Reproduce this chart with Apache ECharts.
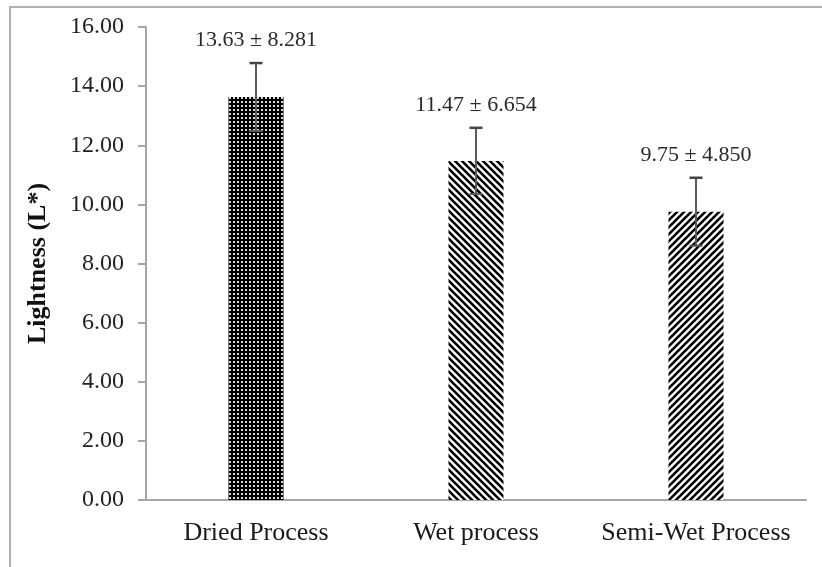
<!DOCTYPE html>
<html>
<head>
<meta charset="utf-8">
<script src="https://cdn.jsdelivr.net/npm/echarts@6/dist/echarts.min.js"></script>
<style>
html,body{margin:0;padding:0;background:#fff;}
#chart{width:822px;height:567px;}
</style>
</head>
<body>
<div id="chart"></div>
<script>
// ---- data ----
const categories = ['Dried Process', 'Wet process', 'Semi-Wet Process'];
const means = [13.63, 11.47, 9.75];
const sds = [8.281, 6.654, 4.850];
const errorBars = [1.15, 1.12, 1.15]; // drawn error-bar half length
const yTicks = { min: 0, max: 16, interval: 2 };

const FONT = "'Liberation Serif', 'Times New Roman', serif";

function makeDots() {
  const c = document.createElement('canvas');
  c.width = 4; c.height = 4;
  const g = c.getContext('2d');
  g.fillStyle = '#000'; g.fillRect(0, 0, 4, 4);
  g.fillStyle = '#d8d8d8'; g.fillRect(1, 1, 2, 2);
  return c;
}
function makeHatch(dir) {
  const s = 7;
  const c = document.createElement('canvas');
  c.width = s; c.height = s;
  const g = c.getContext('2d');
  g.fillStyle = '#fff'; g.fillRect(0, 0, s, s);
  g.strokeStyle = '#000'; g.lineWidth = 2.6;
  for (let k = -1; k <= 1; k++) {
    g.beginPath();
    if (dir === 'back') { g.moveTo(k * s - 1, -1); g.lineTo(k * s + s + 1, s + 1); }
    else { g.moveTo(k * s - 1, s + 1); g.lineTo(k * s + s + 1, -1); }
    g.stroke();
  }
  return c;
}
const patterns = [makeDots(), makeHatch('back'), makeHatch('fwd')];

const chart = echarts.init(document.getElementById('chart'), null, { renderer: 'canvas' });

const barData = means.map((v, i) => ({
  value: v,
  itemStyle: { color: { image: patterns[i], repeat: 'repeat' } }
}));
const errData = means.map((v, i) => [i, v, errorBars[i], v.toFixed(2) + ' \u00b1 ' + sds[i].toFixed(3)]);

chart.setOption({
  animation: false,
  backgroundColor: '#fff',
  graphic: [{
    type: 'rect', silent: true, z: -1,
    shape: { x: 10, y: 7, width: 830, height: 580 },
    style: { fill: 'none', stroke: '#b0b0b0', lineWidth: 2 }
  }],
  grid: { left: 146, right: 16, top: 27, bottom: 67 },
  xAxis: {
    type: 'category',
    data: categories,
    axisLine: { lineStyle: { color: '#a6a6a6', width: 2 } },
    axisTick: { show: false },
    axisLabel: { interval: 0, hideOverlap: false, fontFamily: FONT, fontSize: 26, color: '#1a1a1a', margin: 20 }
  },
  yAxis: {
    type: 'value',
    min: yTicks.min, max: yTicks.max, interval: yTicks.interval,
    name: 'Lightness (L*)',
    nameLocation: 'middle',
    nameRotate: 90,
    nameGap: 95,
    nameTextStyle: { fontFamily: FONT, fontSize: 26, fontWeight: 'bold', color: '#111' },
    axisLine: { show: true, lineStyle: { color: '#a6a6a6', width: 2 } },
    axisTick: { show: true, length: 8, lineStyle: { color: '#a6a6a6', width: 2 } },
    splitLine: { show: false },
    axisLabel: {
      fontFamily: FONT, fontSize: 24, color: '#222', margin: 22,
      formatter: v => v.toFixed(2)
    }
  },
  series: [{
    type: 'bar',
    data: barData,
    barWidth: '25%'
  }, {
    type: 'custom',
    data: errData,
    z: 5,
    renderItem: function (params, api) {
      const i = api.value(0), m = api.value(1), e = api.value(2);
      const top = api.coord([i, m + e]);
      const bot = api.coord([i, m - e]);
      const hw = 6.5;
      const st = { stroke: '#5a5a5a', lineWidth: 2 };
      return {
        type: 'group',
        children: [
          { type: 'line', shape: { x1: top[0], y1: top[1], x2: bot[0], y2: bot[1] }, style: st },
          { type: 'line', shape: { x1: top[0] - hw, y1: top[1], x2: top[0] + hw, y2: top[1] }, style: { stroke: '#444', lineWidth: 2.5 } },
          { type: 'line', shape: { x1: bot[0] - hw, y1: bot[1], x2: bot[0] + hw, y2: bot[1] }, style: st },
          { type: 'text', x: top[0], y: top[1] - 23,
            style: { text: errData[params.dataIndex][3], fontFamily: FONT, fontSize: 22, fill: '#2a2a2a', align: 'center', verticalAlign: 'middle' } }
        ]
      };
    }
  }]
});
</script>
</body>
</html>
